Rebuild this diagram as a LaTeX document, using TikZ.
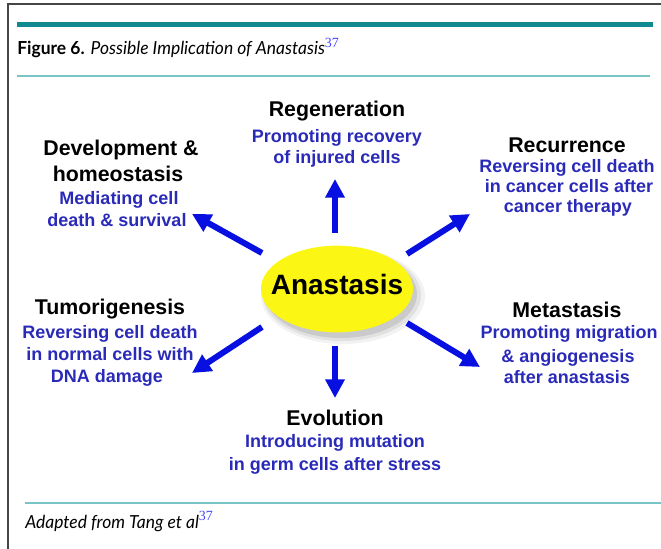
\documentclass[tikz,border=0pt]{standalone}
\usepackage{fontspec}
\setmainfont{Liberation Sans}
\newfontfamily\capfont{Lato}
\newfontfamily\supfont{Liberation Serif}
\usetikzlibrary{arrows.meta,shapes.geometric}
\definecolor{tealdark}{RGB}{16,138,142}
\definecolor{teallight}{RGB}{122,196,198}
\definecolor{subblue}{RGB}{42,42,185}
\definecolor{arrblue}{RGB}{8,16,225}
\definecolor{supblue}{RGB}{70,70,255}
\definecolor{ellyellow}{RGB}{252,246,20}
\definecolor{framegray}{RGB}{70,70,70}
\newcommand{\refsup}{\raisebox{5.5pt}{\supfont\fontsize{10.5}{11}\selectfont\color{supblue}37}}
\begin{document}
\begin{tikzpicture}[x=0.75pt,y=-0.75pt,
  ttl/.style={font=\fontsize{16}{19}\selectfont\bfseries, text=black, anchor=base, inner sep=0pt},
  sub/.style={font=\fontsize{13.5}{16}\selectfont\bfseries, text=subblue, anchor=base, inner sep=0pt},
  arr/.style={draw=arrblue, line width=4.5pt, -{Triangle[length=14pt,width=14pt]}},
  capt/.style={anchor=base west, inner sep=0pt, font=\capfont\fontsize{13.5}{15}\selectfont},
  rule/.style={draw=teallight, line width=1.3pt}
]
\useasboundingbox (0,0) rectangle (661,549);
% frame
\draw[framegray, line width=1.1pt] (8,549) -- (8,4) -- (661,4);
\fill[tealdark] (17,22) rectangle (653,27.5);
\node[capt] (cap) at (17,55) {\scalebox{0.97}[1]{\textbf{Figure 6.} \textit{Possible Implication of Anastasis}}\refsup};
\draw[rule] (17,76) -- (650,76);
\draw[rule] (25,503) -- (661,503);
\node[capt] (src) at (25,528) {\scalebox{0.97}[1]{\textit{Adapted from Tang et al}}\refsup};

% central ellipse with soft shadow
\fill[black, opacity=0.05] (343,296) ellipse [x radius=82, y radius=48];
\fill[black, opacity=0.07] (342,295) ellipse [x radius=79, y radius=46];
\fill[black, opacity=0.10] (341,294) ellipse [x radius=76, y radius=44];
\node[ellipse, fill=ellyellow, minimum width=114pt, minimum height=65pt, inner sep=0pt] (ana) at (337,289) {};
\node[anchor=base, inner sep=0pt, font=\fontsize{21}{24}\selectfont\bfseries] (anatxt) at (337,295) {Anastasis};

% Regeneration
\node[ttl] (reg1) at (337,117) {Regeneration};
\node[sub] (reg2) at (337,143) {Promoting recovery};
\node[sub] (reg3) at (337,164) {of injured cells};
% Development
\node[ttl] (dev1) at (121,156) {Development \&};
\node[ttl] (dev2) at (118,182) {homeostasis};
\node[sub] (dev3) at (119,205) {Mediating cell};
\node[sub] (dev4) at (117,227) {death \& survival};
% Recurrence
\node[ttl] (rec1) at (567,153) {Recurrence};
\node[sub] (rec2) at (567,173) {Reversing cell death};
\node[sub] (rec3) at (569,193) {in cancer cells after};
\node[sub] (rec4) at (568,213) {cancer therapy};
% Tumorigenesis
\node[ttl] (tum1) at (110,315) {Tumorigenesis};
\node[sub] (tum2) at (110,339) {Reversing cell death};
\node[sub] (tum3) at (110,360) {in normal cells with};
\node[sub] (tum4) at (107,382) {DNA damage};
% Metastasis
\node[ttl] (met1) at (567,317) {Metastasis};
\node[sub] (met2) at (569,339) {Promoting migration};
\node[sub] (met3) at (568,362) {\& angiogenesis};
\node[sub] (met4) at (567,383) {after anastasis};
% Evolution
\node[ttl] (evo1) at (335,425) {Evolution};
\node[sub] (evo2) at (335,447) {Introducing mutation};
\node[sub] (evo3) at (335,470) {in germ cells after stress};

% arrows
\coordinate (aUs) at (335,233); \coordinate (aUe) at (335,179);
\coordinate (aDs) at (335,346); \coordinate (aDe) at (335,398);
\coordinate (aULs) at (262,253); \coordinate (aULe) at (192,214);
\coordinate (aLLs) at (262,327); \coordinate (aLLe) at (192,373);
\coordinate (aURs) at (407,254); \coordinate (aURe) at (470,214);
\coordinate (aLRs) at (407,323); \coordinate (aLRe) at (480,367);
\draw[arr] (aUs) -- (aUe);
\draw[arr] (aDs) -- (aDe);
\draw[arr] (aULs) -- (aULe);
\draw[arr] (aLLs) -- (aLLe);
\draw[arr] (aURs) -- (aURe);
\draw[arr] (aLRs) -- (aLRe);
\end{tikzpicture}
\end{document}
